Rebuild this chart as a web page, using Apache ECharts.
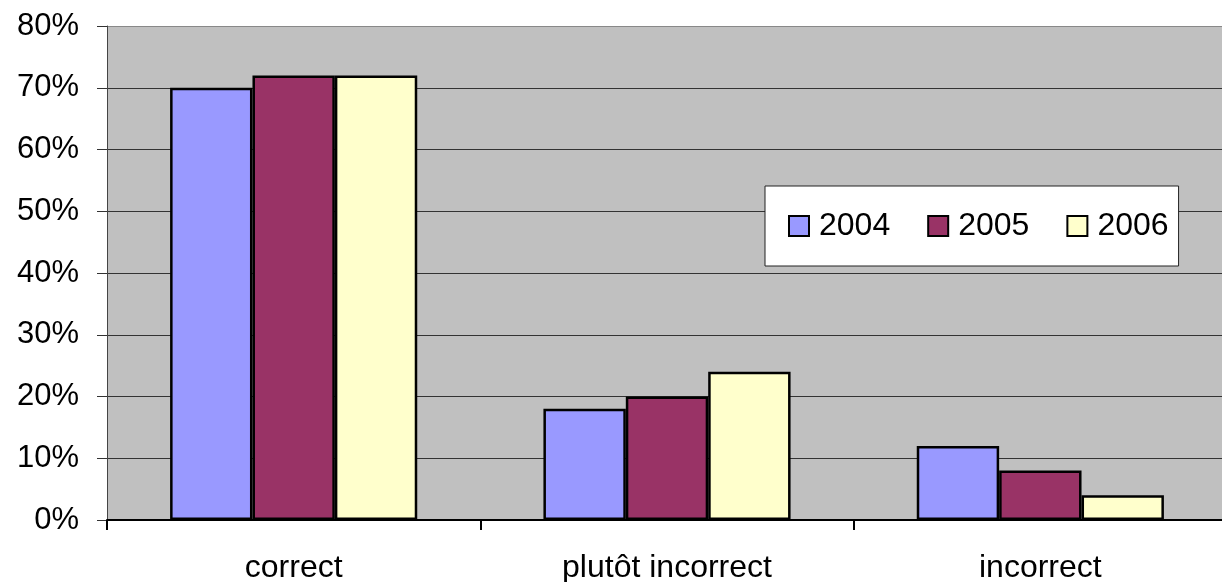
<!DOCTYPE html>
<html>
<head>
<meta charset="utf-8">
<script src="https://cdn.jsdelivr.net/npm/echarts@6/dist/echarts.min.js"></script>
<style>html,body{margin:0;padding:0;background:#fff}#c{width:1222px;height:582px}</style>
</head>
<body>
<div id="c"></div>
<script>
const categories = ['correct', 'plutôt incorrect', 'incorrect'];
const seriesNames = ['2004', '2005', '2006'];
const values2004 = [70, 18, 12];
const values2005 = [72, 20, 8];
const values2006 = [72, 24, 4];
const seriesColors = ['#9999FF', '#993366', '#FFFFCC'];

const FONT = '"Liberation Sans", Arial, sans-serif';
const chart = echarts.init(document.getElementById('c'), null, {renderer: 'canvas'});
const data = [values2004, values2005, values2006];
chart.setOption({
  animation: false,
  grid: {left: 107, right: -5, top: 26, bottom: 62, show: true, backgroundColor: '#C0C0C0', borderWidth: 0, outerBoundsMode: 'none', containLabel: false},
  legend: {
    left: 765, top: 186,
    orient: 'horizontal',
    backgroundColor: '#fff', borderColor: '#222', borderWidth: 1,
    padding: [24, 10, 24, 23],
    itemWidth: 20, itemHeight: 20, itemGap: 37,
    icon: 'rect',
    itemStyle: {borderColor: '#000', borderWidth: 2},
    textStyle: {fontSize: 32, fontFamily: FONT, color: '#000', lineHeight: 32, padding: [0, 0, 0, 5]},
    data: seriesNames
  },
  xAxis: {
    type: 'category', data: categories,
    axisLine: {lineStyle: {color: '#000', width: 2}},
    axisTick: {show: true, length: 10, lineStyle: {color: '#000', width: 2}},
    axisLabel: {fontSize: 32, fontFamily: FONT, color: '#000', margin: 32},
    splitLine: {show: false}
  },
  yAxis: {
    type: 'value', min: 0, max: 80, interval: 10,
    axisLine: {show: true, lineStyle: {color: '#444', width: 1}},
    axisTick: {show: true, length: 10, lineStyle: {color: '#333', width: 1}},
    axisLabel: {fontSize: 31, fontFamily: FONT, color: '#000', margin: 28, formatter: v => v + '%'},
    splitLine: {show: true, lineStyle: {color: ['#333','#333','#333','#333','#333','#333','#333','#333','#888'], width: 1}}
  },
  series: seriesNames.map((n, i) => ({
    name: n, type: 'bar', data: data[i],
    barGap: '0%', barCategoryGap: '33.8%',
    itemStyle: {color: seriesColors[i], borderColor: '#000', borderWidth: 2.5}
  }))
});
</script>
</body>
</html>
